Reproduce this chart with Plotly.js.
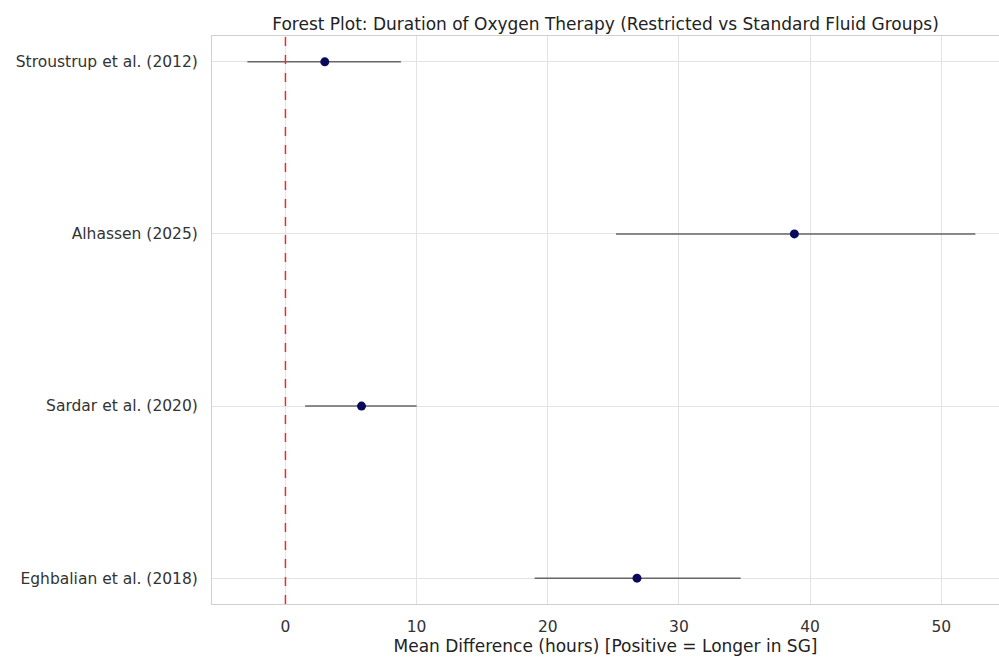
<!DOCTYPE html>
<html><head><meta charset="utf-8">
<script src="https://cdn.plot.ly/plotly-3.0.1.min.js"></script>
<style>body{margin:0;background:#fff}#c{width:999px;height:663px}</style>
</head><body><div id="c"></div>
<script>
const studies = ["Stroustrup et al. (2012)", "Alhassen (2025)", "Sardar et al. (2020)", "Eghbalian et al. (2018)"];
const meanDiff = [3.0, 38.8, 5.8, 26.8];
const ciLow = [-2.9, 25.2, 1.5, 19.0];
const ciHigh = [8.8, 52.6, 10.0, 34.7];

const trace = {
  type: 'scatter', mode: 'markers',
  x: meanDiff, y: studies,
  marker: {color: '#0a0a5c', size: 9},
  error_x: {type: 'data', symmetric: false,
    array: meanDiff.map((m,i)=>ciHigh[i]-m),
    arrayminus: meanDiff.map((m,i)=>m-ciLow[i]),
    color: '#666666', thickness: 1.6, width: 0},
  showlegend: false, hoverinfo: 'x+y'
};
const font = {family: 'DejaVu Sans, sans-serif', size: 15.5, color: '#333333'};
const layout = {
  width: 999, height: 663,
  margin: {l: 212, r: 0, t: 36, b: 59},
  paper_bgcolor: '#fff', plot_bgcolor: '#fff',
  font: font,
  title: {text: 'Forest Plot: Duration of Oxygen Therapy (Restricted vs Standard Fluid Groups)',
    font: {family: 'DejaVu Sans, sans-serif', size: 17, color: '#222'},
    x: 0.5, xref: 'paper', y: 1, yref: 'paper', yanchor: 'bottom', pad: {b: 6}},
  xaxis: {range: [-5.6, 54.4], tickvals: [0,10,20,30,40,50], showgrid: true, gridcolor: '#e3e3e3',
    gridwidth: 1, zeroline: false, showline: true, linecolor: '#d0d0d0', mirror: true,
    ticks: '', ticklabelstandoff: 8,
    title: {text: 'Mean Difference (hours) [Positive = Longer in SG]', standoff: 2,
      font: {family: 'DejaVu Sans, sans-serif', size: 17, color: '#222'}}},
  yaxis: {type: 'category', categoryarray: studies, range: [3.15, -0.15], showgrid: true,
    gridcolor: '#e3e3e3', gridwidth: 1, zeroline: false, showline: true, linecolor: '#d0d0d0',
    mirror: true, ticks: '', ticklabelstandoff: 10},
  shapes: [{type: 'line', xref: 'x', yref: 'paper', x0: 0, x1: 0, y0: 0, y1: 1,
    line: {color: '#e03030', width: 1.5, dash: 'dash'}}]
};
Plotly.newPlot('c', [trace], layout, {displayModeBar: false});
</script>
</body></html>
